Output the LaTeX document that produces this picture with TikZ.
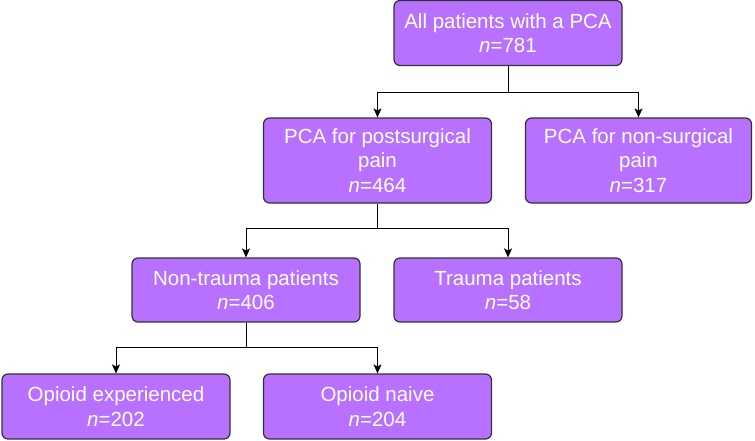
\documentclass[tikz,border=0pt]{standalone}
\usepackage{fontspec}
\setmainfont{Liberation Sans}
\usepackage{tikz}
\usetikzlibrary{
  arrows.meta,
  positioning
}
\definecolor{boxcolor}{RGB}{183, 112, 255}
\definecolor{bordercolor}{RGB}{50, 50, 50}
\definecolor{linecolor}{RGB}{0, 0, 0}
\tikzset{
flowbox/.style={
  draw=bordercolor,
  line width=1.2pt,
  rounded corners=6pt,
  fill=boxcolor,
  minimum width=228pt,
  minimum height=65pt,
  align=center,
  text=white,
  font=\fontsize{20.5}{24.5}\selectfont
},
tallbox/.style={
  flowbox,
  minimum height=85pt
},
link/.style={
  line width=0.9pt,
  draw=linecolor
},
arrow/.style={
  link,
  -{Stealth[length=9pt,width=8pt,inset=2pt]}
}
}
\begin{document}
\begin{tikzpicture}[x=1pt, y=-1pt]
\useasboundingbox (0,0) rectangle (755,440);

% ============================================================================
% NIVEL 1
% ============================================================================
\node[flowbox] (all) at (508, 33) {All patients with a PCA\\\textit{n}=781};

% ============================================================================
% NIVEL 2
% ============================================================================
\node[tallbox] (post) at (377.5, 160.5) {PCA for postsurgical\\pain\\\textit{n}=464};
\node[tallbox, minimum width=226pt] (nonsurg) at (638.5, 160.5) {PCA for non-surgical\\pain\\\textit{n}=317};

% ============================================================================
% NIVEL 3
% ============================================================================
\node[flowbox, minimum height=64pt] (nontrauma) at (246, 290) {Non-trauma patients\\\textit{n}=406};
\node[flowbox, minimum height=64pt] (trauma) at (508, 290) {Trauma patients\\\textit{n}=58};

% ============================================================================
% NIVEL 4
% ============================================================================
\node[flowbox] (experienced) at (116, 406.5) {Opioid experienced\\\textit{n}=202};
\node[flowbox] (naive) at (377.5, 406.5) {Opioid naive\\\textit{n}=204};

% ============================================================================
% CONEXOES
% ============================================================================
\draw[link] (all.south) -- ++(0,26) coordinate (split1);
\draw[arrow] (split1) -| (post.north);
\draw[arrow] (split1) -| (nonsurg.north);

\draw[link] (post.south) -- ++(0,25) coordinate (split2);
\draw[arrow] (split2) -| (nontrauma.north);
\draw[arrow] (split2) -| (trauma.north);

\draw[link] (nontrauma.south) -- ++(0,25) coordinate (split3);
\draw[arrow] (split3) -| (experienced.north);
\draw[arrow] (split3) -| (naive.north);

\end{tikzpicture}
\end{document}
